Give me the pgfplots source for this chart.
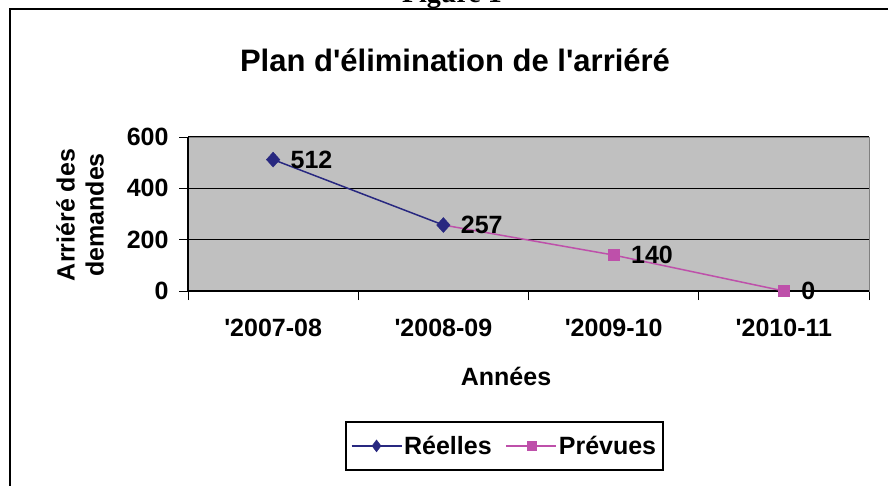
\documentclass[border=0pt]{standalone}
\usepackage{fontspec}
\setmainfont{Liberation Sans}
\newfontfamily\serifbf{Liberation Serif}
\usepackage{pgfplots}
\pgfplotsset{compat=1.18}
\definecolor{reel}{RGB}{40,40,128}
\definecolor{prev}{RGB}{190,80,170}
\definecolor{plotbg}{RGB}{192,192,192}
\newcommand\lbl{\bfseries\fontsize{25}{29}\selectfont}
\newcommand\q{\textquotesingle}
\begin{document}
\begin{tikzpicture}[x=1pt,y=1pt]
\useasboundingbox (0,0) rectangle (888,485);
\begin{scope}
\clip (0,0) rectangle (888,485);
\node[font=\serifbf\bfseries\fontsize{28}{32}\selectfont, anchor=base] at (452,482) {Figure 1};
\draw[line width=2.5pt] (10,-20) -- (10,476) -- (900,476);
\end{scope}
\node[font=\bfseries\fontsize{31}{36}\selectfont] at (455,425) {Plan d\q{}élimination de l\q{}arriéré};
\node[font=\lbl, rotate=90, align=center] at (80,270) {Arriéré des\\demandes};
\node[font=\lbl] at (506,109) {Années};
\begin{axis}[
  at={(188pt,194pt)}, anchor=south west,
  scale only axis, width=681pt, height=154pt,
  xmin=-0.5, xmax=3.5, ymin=0, ymax=600,
  xtick={0,1,2,3},
  xticklabels={\q2007-08,\q2008-09,\q2009-10,\q2010-11},
  major x tick style={draw=none},
  minor xtick={-0.5,0.5,1.5,2.5,3.5},
  ytick={0,200,400,600},
  tick pos=left,
  tick align=outside, tick style={black, line width=1pt},
  major tick length=9pt, minor tick length=9pt,
  ymajorgrids, major grid style={black, line width=1.2pt},
  axis background/.style={fill=plotbg},
  axis line style={draw=gray, line width=1pt},
  ticklabel style={font=\lbl},
  xticklabel style={yshift=-16pt},
  yticklabel style={xshift=-7pt},
  /pgf/number format/assume math mode=true,
  clip=false,
  legend image code/.code={\draw[mark repeat=2,mark phase=2,#1] plot coordinates {(0pt,0pt) (25pt,0pt) (50pt,0pt)};},
  legend style={at={(0.4648,-1.006)}, anchor=center, draw=black, line width=1.5pt,
    font=\lbl, legend columns=2, inner xsep=5pt, inner ysep=12pt,
    /tikz/every even column/.append style={column sep=12pt}},
  nodes near coords style={font=\lbl, text=black, anchor=west, xshift=14pt},
]
\addlegendimage{reel, line width=1.2pt, mark=diamond*, mark size=6pt, mark options={solid, line width=0.4pt}}
\addlegendentry{Réelles}
\addlegendimage{prev, line width=1.2pt, mark=square*, mark size=4.5pt, mark options={solid, line width=0.4pt}}
\addlegendentry{Prévues}
\draw[black, line width=1.5pt] (rel axis cs:0,1) -- (rel axis cs:0,0) -- (rel axis cs:1,0);
\addplot[prev, line width=1.5pt, mark=square*, mark size=5.5pt, mark indices={2,3},
  mark options={solid, line width=0.4pt}, forget plot,
  nodes near coords, point meta=explicit symbolic]
  coordinates {(1,257) [] (2,140) [140] (3,0) [0]};
\addplot[reel, line width=1.5pt, mark=diamond*, mark size=7.5pt,
  mark options={solid, line width=0.4pt, xscale=1.2}, forget plot,
  nodes near coords, point meta=explicit symbolic]
  coordinates {(0,512) [512] (1,257) [257]};
\end{axis}
\end{tikzpicture}
\end{document}
